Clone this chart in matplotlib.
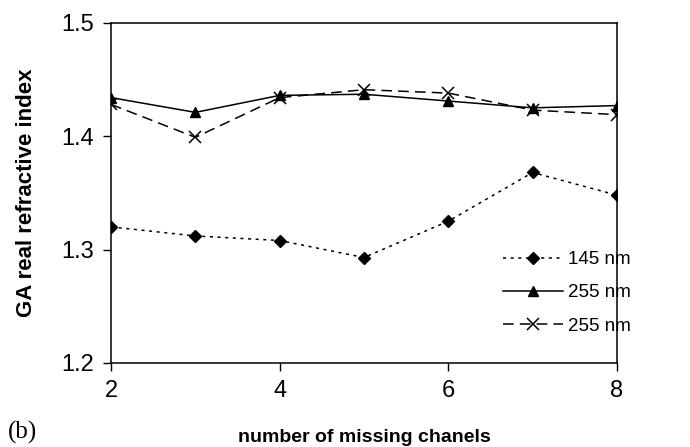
import matplotlib.pyplot as plt

plt.rcParams['font.family'] = ['Liberation Sans', 'DejaVu Sans']

channels = [2, 3, 4, 5, 6, 7, 8]
n145 = [1.320, 1.312, 1.308, 1.293, 1.325, 1.368, 1.348]
n255_a = [1.434, 1.421, 1.436, 1.437, 1.431, 1.425, 1.427]
n255_b = [1.428, 1.399, 1.434, 1.441, 1.438, 1.423, 1.419]
labels = ['145 nm', '255 nm', '255 nm']

fig = plt.figure(figsize=(6.9, 4.47), dpi=100)
ax = fig.add_axes([0.161, 0.188, 0.733, 0.761])

ax.plot(channels, n145, color='black', lw=1.1, linestyle=(0, (2, 3)),
        marker='D', markersize=6, label=labels[0])
ax.plot(channels, n255_a, color='black', lw=1.1, linestyle='-',
        marker='^', markersize=7.5, label=labels[1])
ax.plot(channels, n255_b, color='black', lw=1.1, linestyle=(0, (7, 4)),
        marker='x', markersize=8, markeredgewidth=1.1, label=labels[2])

ax.set_xlim(2, 8)
ax.set_ylim(1.2, 1.5)
ax.set_xticks([2, 4, 6, 8])
ax.set_yticks([1.2, 1.3, 1.4, 1.5])
ax.set_yticklabels(['1.2', '1.3', '1.4', '1.5'])
ax.tick_params(labelsize=17, direction='out', length=6, width=1, pad=6)
for s in ax.spines.values():
    s.set_linewidth(1.1)

ax.set_xlabel('number of missing chanels', fontsize=14, fontweight='bold', labelpad=20)
ax.set_ylabel('GA real refractive index', fontsize=16, fontweight='bold', labelpad=18)

ax.legend(loc='center left', bbox_to_anchor=(0.775, 0.206), frameon=False, fontsize=13.5,
          handlelength=3.2, handletextpad=0.27, labelspacing=0.85,
          borderpad=0, borderaxespad=0)

fig.text(0.012, 0.018, '(b)', fontsize=18, family='Liberation Serif')

fig.savefig('out.png', dpi=100)
